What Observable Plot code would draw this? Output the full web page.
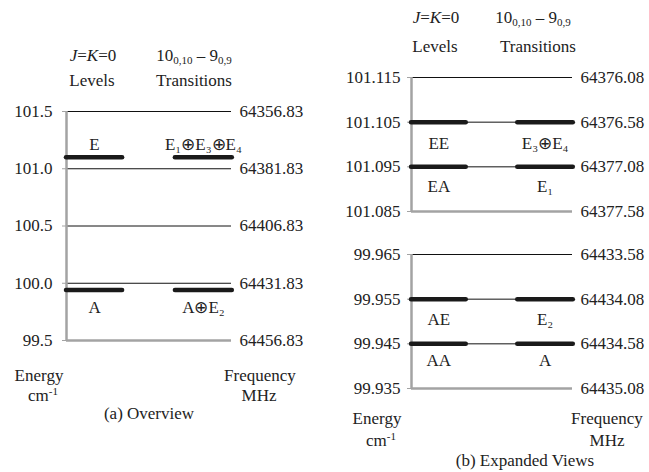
<!DOCTYPE html>
<html><head><meta charset="utf-8">
<script src="https://cdn.jsdelivr.net/npm/d3@7"></script>
<script src="https://cdn.jsdelivr.net/npm/@observablehq/plot@0.6"></script>
<style>
body{margin:0;background:#fff;}
#wrap{position:relative;width:649px;height:472px;font-family:"Liberation Serif","Times New Roman",serif;font-size:17px;color:#222;}
#wrap svg{position:absolute;left:0;top:0;}
.lbl{position:absolute;transform:translate(-50%,-50%);white-space:nowrap;line-height:1;}
.lbl sub{font-size:11px;vertical-align:-3px;line-height:0;}
.lbl sup{font-size:11px;vertical-align:6px;line-height:0;}
</style></head><body><div id="wrap"></div>
<script>
// ---- Panel (a) Overview ----
const energyTicksA = [101.5, 101.0, 100.5, 100.0, 99.5];
const energyLabelsA = ["101.5", "101.0", "100.5", "100.0", "99.5"];
const freqLabelsA = ["64356.83", "64381.83", "64406.83", "64431.83", "64456.83"];
const levelNamesA = ["E", "A"];
const levelEnergiesA = [101.1, 99.94];
const transitionNamesA = ["E₁⊕E₃⊕E₄", "A⊕E₂"];

// ---- Panel (b) Expanded, upper ----
const energyTicksB1 = [101.115, 101.105, 101.095, 101.085];
const energyLabelsB1 = ["101.115", "101.105", "101.095", "101.085"];
const freqLabelsB1 = ["64376.08", "64376.58", "64377.08", "64377.58"];
const levelNamesB1 = ["EE", "EA"];
const levelEnergiesB1 = [101.105, 101.095];
const transitionNamesB1 = ["E₃⊕E₄", "E₁"];

// ---- Panel (b) Expanded, lower ----
const energyTicksB2 = [99.965, 99.955, 99.945, 99.935];
const energyLabelsB2 = ["99.965", "99.955", "99.945", "99.935"];
const freqLabelsB2 = ["64433.58", "64434.08", "64434.58", "64435.08"];
const levelNamesB2 = ["AE", "AA"];
const levelEnergiesB2 = [99.955, 99.945];
const transitionNamesB2 = ["E₂", "A"];

const FONT = "Liberation Serif, Times New Roman, serif";
const GRAY = "#a3a3a3";
const INK = "#222";

function panel(cfg) {
  const {ticks, tickLabels, freqLabels, names, energies, trans, left, right, top, bottom, labelDy, tickPadding} = cfg;
  const tickRows = ticks.map((v, i) => ({v, e: tickLabels[i], f: freqLabels[i]}));
  const lo = d3.min(ticks), hi = d3.max(ticks);
  const levels = names.map((n, i) => ({name: n, e: energies[i], t: trans[i]}));
  const labelMarks = levels.flatMap((l, i) => [
    Plot.text([l], {x: 0.17, y: "e", text: "name", dy: labelDy[i], fontSize: 17, fill: INK, fontFamily: FONT}),
    Plot.text([l], {x: 0.83, y: "e", text: "t", dy: labelDy[i], fontSize: 17, fill: INK, fontFamily: FONT})
  ]);
  return Plot.plot({
    width: 649, height: 472,
    marginLeft: left, marginRight: 649 - right, marginTop: top, marginBottom: 472 - bottom,
    x: {domain: [0, 1], axis: null},
    y: {domain: [lo, hi], axis: null},
    style: {background: "none", fontFamily: FONT, fontSize: "17px", color: INK, overflow: "visible"},
    marks: [
      Plot.ruleY(tickRows.filter(d => d.v !== lo), {y: "v", x1: 0, x2: 1, stroke: "#111", strokeWidth: 1}),
      Plot.ruleY([lo], {x1: 0, x2: 1, stroke: GRAY, strokeWidth: 2.5}),
      Plot.ruleX([0], {y1: lo, y2: hi, stroke: GRAY, strokeWidth: 2.5}),
      Plot.axisY(ticks, {anchor: "left", tickSize: 4, tickPadding, stroke: GRAY, fill: INK,
        tickFormat: d => tickLabels[ticks.indexOf(d)], fontSize: 17, fontFamily: FONT, label: null}),
      Plot.text(tickRows, {x: 1, y: "v", text: "f", textAnchor: "start", dx: 8, fontSize: 17, fill: INK, fontFamily: FONT}),
      Plot.ruleY(levels, {y: "e", x1: 0, x2: 0.34, stroke: "#1a1a1a", strokeWidth: 4.5, strokeLinecap: "round"}),
      Plot.ruleY(levels, {y: "e", x1: 0.66, x2: 1.005, stroke: "#1a1a1a", strokeWidth: 4.5, strokeLinecap: "round"}),
      ...labelMarks
    ]
  });
}

const wrap = document.getElementById("wrap");
wrap.appendChild(panel({ticks: energyTicksA, tickLabels: energyLabelsA, freqLabels: freqLabelsA,
  names: levelNamesA, energies: levelEnergiesA, trans: transitionNamesA,
  left: 66, right: 231, top: 111, bottom: 340, labelDy: [-13, 17], tickPadding: 10}));
wrap.appendChild(panel({ticks: energyTicksB1, tickLabels: energyLabelsB1, freqLabels: freqLabelsB1,
  names: levelNamesB1, energies: levelEnergiesB1, trans: transitionNamesB1,
  left: 411, right: 572, top: 77, bottom: 211, labelDy: [21, 20], tickPadding: 7}));
wrap.appendChild(panel({ticks: energyTicksB2, tickLabels: energyLabelsB2, freqLabels: freqLabelsB2,
  names: levelNamesB2, energies: levelEnergiesB2, trans: transitionNamesB2,
  left: 411, right: 572, top: 254, bottom: 388, labelDy: [20, 17], tickPadding: 7}));

// Headers and captions
const texts = [
  [93, 55, "<i>J</i>=<i>K</i>=0"], [92, 80, "Levels"],
  [194, 55, "10<sub>0,10</sub> – 9<sub>0,9</sub>"], [194, 80, "Transitions"],
  [39, 375, "Energy"], [43, 395, "cm<sup>-1</sup>"],
  [260, 375, "Frequency"], [259, 395, "MHz"],
  [149, 413, "(a) Overview"],
  [436, 17, "<i>J</i>=<i>K</i>=0"], [435, 46, "Levels"],
  [533, 17, "10<sub>0,10</sub> – 9<sub>0,9</sub>"], [538, 46, "Transitions"],
  [377, 418, "Energy"], [381, 440, "cm<sup>-1</sup>"],
  [607, 418, "Frequency"], [607, 440, "MHz"],
  [525, 460, "(b) Expanded Views"]
];
for (const [x, y, h] of texts) {
  const d = document.createElement("div");
  d.className = "lbl";
  d.style.left = x + "px";
  d.style.top = y + "px";
  d.innerHTML = h;
  wrap.appendChild(d);
}
</script></body></html>
